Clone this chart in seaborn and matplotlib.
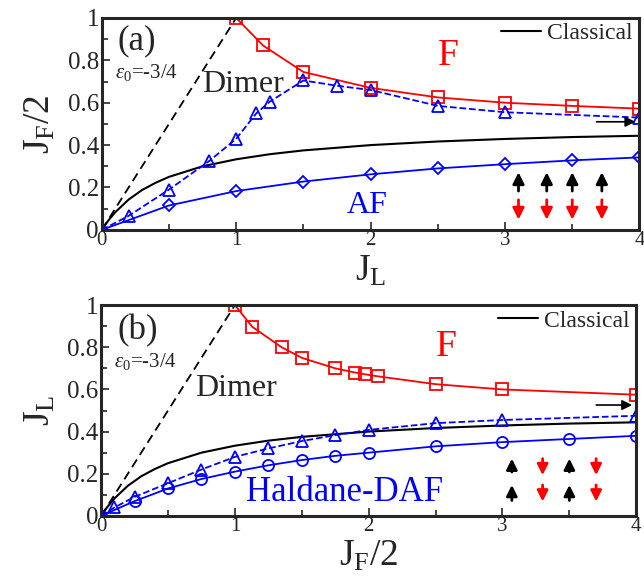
import matplotlib
matplotlib.use("Agg")
import matplotlib.pyplot as plt
import seaborn as sns

# =========================
# DATA
# =========================
# panel (a): J_F/2 vs J_L
a_f_x = [1.0, 1.2, 1.5, 2.0, 2.5, 3.0, 3.5, 4.0]
a_f_y = [1.0, 0.87, 0.745, 0.67, 0.625, 0.60, 0.585, 0.572]
a_tri_x = [0.0, 0.2, 0.5, 0.8, 1.0, 1.15, 1.25, 1.5, 1.75, 2.0, 2.5, 3.0, 4.0]
a_tri_y = [0.0, 0.066, 0.19, 0.325, 0.43, 0.55, 0.605, 0.705, 0.68, 0.66, 0.585, 0.555, 0.53]
a_af_x = [0.0, 0.5, 1.0, 1.5, 2.0, 2.5, 3.0, 3.5, 4.0]
a_af_y = [0.0, 0.115, 0.183, 0.228, 0.262, 0.29, 0.31, 0.328, 0.342]

# panel (b): J_L vs J_F/2
b_f_x = [1.0, 1.13, 1.35, 1.5, 1.75, 1.9, 1.97, 2.07, 2.5, 3.0, 4.0]
b_f_y = [1.0, 0.897, 0.80, 0.75, 0.70, 0.68, 0.672, 0.662, 0.625, 0.60, 0.575]
b_tri_x = [0.0, 0.1, 0.25, 0.5, 0.75, 1.0, 1.25, 1.5, 1.75, 2.0, 2.5, 3.0, 4.0]
b_tri_y = [0.0, 0.04, 0.09, 0.155, 0.22, 0.28, 0.32, 0.355, 0.383, 0.408, 0.44, 0.455, 0.475]
b_hd_x = [0.0, 0.25, 0.5, 0.75, 1.0, 1.25, 1.5, 1.75, 2.0, 2.5, 3.0, 3.5, 4.0]
b_hd_y = [0.0, 0.07, 0.13, 0.175, 0.21, 0.24, 0.265, 0.285, 0.30, 0.33, 0.35, 0.365, 0.38]

# classical boundary (same shape in both panels)
cl_x = [0.0, 0.05, 0.1, 0.2, 0.3, 0.4, 0.5, 0.75, 1.0, 1.25, 1.5, 2.0, 2.5, 3.0, 3.5, 4.0]
cl_y = [0.0, 0.045, 0.083, 0.143, 0.188, 0.222, 0.25, 0.30, 0.333, 0.357, 0.375, 0.40, 0.417, 0.429, 0.438, 0.444]

# dimer boundary
dim_x = [0.0, 1.0]
dim_y = [0.0, 1.0]

# spin arrows
a_spin_x = [3.1, 3.31, 3.5, 3.72]
b_spin_x = [3.07, 3.3, 3.5, 3.7]
b_spin_up = [True, False, True, False]

RED = "#ff0000"
BLUE = "#0000ff"

sns.set_style("ticks")
plt.rcParams["font.family"] = ["Liberation Serif", "DejaVu Serif"]
plt.rcParams["mathtext.fontset"] = "custom"
plt.rcParams["mathtext.rm"] = "Liberation Serif"
plt.rcParams["mathtext.it"] = "Liberation Serif:italic"

fig = plt.figure(figsize=(6.44, 5.79), dpi=100)
ax_a = fig.add_axes([0.158, 0.603, 0.835, 0.366])
ax_b = fig.add_axes([0.157, 0.109, 0.831, 0.364])


def style_axes(ax):
    ax.set_xlim(0, 4)
    ax.set_ylim(0, 1)
    ax.set_xticks([0, 1, 2, 3, 4])
    ax.set_xticks([0.5, 1.5, 2.5, 3.5], minor=True)
    ax.set_yticks([0, 0.2, 0.4, 0.6, 0.8, 1.0])
    ax.set_yticklabels(["0", "0.2", "0.4", "0.6", "0.8", "1"])
    ax.set_yticks([0.1, 0.3, 0.5, 0.7, 0.9], minor=True)
    ax.tick_params(which="both", direction="in", width=1.2)
    ax.tick_params(which="major", length=6)
    ax.tick_params(which="minor", length=4)
    ax.tick_params(axis="y", labelsize=18, pad=2)
    ax.tick_params(axis="x", labelsize=15, pad=1)
    for s in ax.spines.values():
        s.set_linewidth(2.2)
        s.set_visible(True)


def common(ax, label, base):
    sns.lineplot(x=dim_x, y=dim_y, ax=ax, color="black", lw=1.3, dashes=False)
    ax.lines[-1].set_dashes([5, 3])
    sns.lineplot(x=cl_x, y=cl_y, ax=ax, color="black", lw=1.5)
    ax.text(0.12, base, label, fontsize=25)
    ax.text(0.1, base - 0.135, r"$\varepsilon_0$=-3/4", fontsize=15)


def add_legend(ax):
    line = ax.lines[1]
    ax.legend([line], ["Classical"], loc="upper right", bbox_to_anchor=(1.0, 1.01),
              frameon=False, fontsize=17, handlelength=1.7, handletextpad=0.25,
              borderaxespad=0.1, borderpad=0.2)


# =========================
# PANEL (a)
# =========================
common(ax_a, "(a)", 0.85)
sns.lineplot(x=a_f_x, y=a_f_y, ax=ax_a, color=RED, lw=1.3, marker="s", ms=8,
             mfc="none", mec=RED, mew=1.3)
sns.lineplot(x=a_tri_x, y=a_tri_y, ax=ax_a, color=BLUE, lw=1.3, linestyle="--",
             marker="^", ms=8, mfc="none", mec=BLUE, mew=1.3)
sns.lineplot(x=a_af_x, y=a_af_y, ax=ax_a, color=BLUE, lw=1.3, marker="D", ms=6.5,
             mfc="none", mec=BLUE, mew=1.3)
ax_a.text(0.745, 0.65, "Dimer", fontsize=23)
ax_a.text(2.5, 0.78, "F", fontsize=27, color=RED)
ax_a.text(1.82, 0.08, "AF", fontsize=23, color=BLUE)
ax_a.annotate("", xy=(3.99, 0.51), xytext=(3.66, 0.51),
              arrowprops=dict(arrowstyle="-|>", color="black", lw=1.2, mutation_scale=15))
for sx in a_spin_x:
    ax_a.annotate("", xy=(sx, 0.285), xytext=(sx, 0.17),
                  arrowprops=dict(arrowstyle="-|>", color="black", lw=2, mutation_scale=17))
    ax_a.annotate("", xy=(sx, 0.035), xytext=(sx, 0.155),
                  arrowprops=dict(arrowstyle="-|>", color=RED, lw=2, mutation_scale=17))
style_axes(ax_a)
add_legend(ax_a)
ax_a.set_xlabel(r"J$_\mathrm{L}$", fontsize=27, labelpad=3)
ax_a.set_ylabel(r"J$_\mathrm{F}$/2", fontsize=27, labelpad=7)

# =========================
# PANEL (b)
# =========================
common(ax_b, "(b)", 0.84)
sns.lineplot(x=b_f_x, y=b_f_y, ax=ax_b, color=RED, lw=1.3, marker="s", ms=8,
             mfc="none", mec=RED, mew=1.3)
sns.lineplot(x=b_tri_x, y=b_tri_y, ax=ax_b, color=BLUE, lw=1.3, linestyle="--",
             marker="^", ms=8, mfc="none", mec=BLUE, mew=1.3)
sns.lineplot(x=b_hd_x, y=b_hd_y, ax=ax_b, color=BLUE, lw=1.3, marker="o", ms=8,
             mfc="none", mec=BLUE, mew=1.3)
ax_b.text(0.7, 0.57, "Dimer", fontsize=23)
ax_b.text(2.5, 0.76, "F", fontsize=27, color=RED)
ax_b.text(1.08, 0.07, "Haldane-DAF", fontsize=25, color=BLUE)
ax_b.annotate("", xy=(3.99, 0.526), xytext=(3.68, 0.526),
              arrowprops=dict(arrowstyle="-|>", color="black", lw=1.2, mutation_scale=15))
for sx, up in zip(b_spin_x, b_spin_up):
    if up:
        for lo, hi in [(0.195, 0.285), (0.06, 0.16)]:
            ax_b.annotate("", xy=(sx, hi), xytext=(sx, lo),
                          arrowprops=dict(arrowstyle="-|>", color="black", lw=2, mutation_scale=16))
    else:
        for hi, lo in [(0.285, 0.18), (0.16, 0.055)]:
            ax_b.annotate("", xy=(sx, lo), xytext=(sx, hi),
                          arrowprops=dict(arrowstyle="-|>", color=RED, lw=2, mutation_scale=16))
style_axes(ax_b)
add_legend(ax_b)
ax_b.set_xlabel(r"J$_\mathrm{F}$/2", fontsize=27, labelpad=2)
ax_b.set_ylabel(r"J$_\mathrm{L}$", fontsize=27, labelpad=7)

fig.savefig("out.png", dpi=100)
